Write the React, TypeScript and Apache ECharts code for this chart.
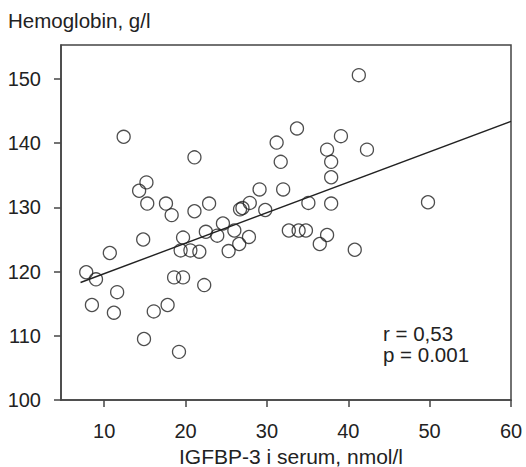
import React, { useEffect, useRef } from "react";
import * as echarts from "echarts";

const igfbp3 = [
  7.8, 9.0, 10.7, 11.6, 12.4, 8.5, 11.2, 14.3, 15.2, 15.3, 14.8, 14.9, 16.1, 17.6, 17.8, 18.3,
  18.6, 19.2, 19.7, 19.7, 19.4, 20.6, 21.7, 21.1, 21.1, 22.3, 22.9, 22.5, 23.9, 24.6, 26.0, 25.3,
  26.6, 27.8, 26.7, 27.0, 27.9, 29.1, 29.8, 31.2, 31.7, 32.0, 33.7, 32.7, 33.9, 34.8, 35.1, 36.5,
  37.4, 37.4, 37.9, 37.9, 37.9, 39.1, 40.8, 41.3, 42.3, 49.8,
];
const hemoglobin = [
  119.9, 118.8, 122.9, 116.8, 141.0, 114.8, 113.6, 132.6, 133.9, 130.6, 125.0, 109.5, 113.8, 130.6, 114.8, 128.8,
  119.1, 107.5, 119.1, 125.3, 123.3, 123.3, 123.1, 137.8, 129.4, 117.9, 130.6, 126.2, 125.6, 127.5, 126.4, 123.2,
  124.3, 125.4, 129.7, 129.9, 130.7, 132.8, 129.6, 140.1, 137.1, 132.8, 142.3, 126.4, 126.4, 126.4, 130.7, 124.3,
  125.7, 139.0, 137.1, 134.7, 130.6, 141.1, 123.4, 150.6, 139.0, 130.8,
];
const fitX = [7.1, 60];
const fitY = [118.3, 143.4];
const xTicks = [10, 20, 30, 40, 50, 60];
const yTicks = [100, 110, 120, 130, 140, 150];
const xRange = [4.7, 60];
const yRange = [100, 155.3];
const yTitle = "Hemoglobin, g/l";
const xTitle = "IGFBP-3 i serum, nmol/l";
const statLines = ["r = 0,53", "p = 0.001"];

const FONT = "Liberation Sans, Arial, sans-serif";
const TXT = "#222";
const AX = "#444";

export default function App() {
  const ref = useRef<HTMLDivElement>(null);
  useEffect(() => {
    if (!ref.current) return;
    const chart = echarts.init(ref.current, undefined, { renderer: "svg" });
    const points = igfbp3.map((x, i) => [x, hemoglobin[i]]);
    const fit = fitX.map((x, i) => [x, fitY[i]]);
    chart.setOption({
      animation: false,
      textStyle: { fontFamily: FONT },
      grid: {
        left: 61,
        top: 45,
        right: 15,
        bottom: 67,
        show: true,
        borderColor: AX,
        borderWidth: 1.5,
        backgroundColor: "transparent",
      },
      xAxis: {
        type: "value",
        min: xRange[0],
        max: xRange[1],
        splitLine: { show: false },
        axisLine: { show: true, lineStyle: { color: AX, width: 1.5 } },
        axisTick: { show: true, length: 7, customValues: xTicks, lineStyle: { color: AX, width: 1.5 } },
        axisLabel: {
          customValues: xTicks,
          margin: 21,
          color: TXT,
          fontSize: 20,
          fontFamily: FONT,
          showMinLabel: true,
          showMaxLabel: true,
        },
      },
      yAxis: {
        type: "value",
        min: yRange[0],
        max: yRange[1],
        splitLine: { show: false },
        axisLine: { show: true, lineStyle: { color: AX, width: 1.5 } },
        axisTick: { show: true, length: 7, customValues: yTicks, lineStyle: { color: AX, width: 1.5 } },
        axisLabel: {
          customValues: yTicks,
          margin: 20,
          color: TXT,
          fontSize: 20,
          fontFamily: FONT,
          showMinLabel: true,
        },
      },
      graphic: [
        {
          type: "text",
          left: 8,
          top: 10,
          style: { text: yTitle, fill: TXT, fontSize: 20.5, fontFamily: FONT },
        },
        {
          type: "text",
          x: 291,
          y: 456,
          style: {
            text: xTitle,
            fill: TXT,
            fontSize: 21,
            fontFamily: FONT,
            textAlign: "center",
            textVerticalAlign: "middle",
          },
        },
        {
          type: "text",
          x: 383,
          y: 333,
          style: { text: statLines[0], fill: TXT, fontSize: 20.5, fontFamily: FONT, textVerticalAlign: "middle" },
        },
        {
          type: "text",
          x: 383,
          y: 354,
          style: { text: statLines[1], fill: TXT, fontSize: 20.5, fontFamily: FONT, textVerticalAlign: "middle" },
        },
      ],
      series: [
        {
          type: "line",
          data: fit,
          showSymbol: false,
          symbol: "none",
          lineStyle: { color: TXT, width: 1.4 },
          silent: true,
          z: 1,
        },
        {
          type: "scatter",
          data: points,
          symbol: "circle",
          symbolSize: 13,
          itemStyle: { color: "rgba(0,0,0,0)", borderColor: TXT, borderWidth: 1.3 },
          z: 2,
        },
      ],
    });
    return () => chart.dispose();
  }, []);
  return (
    <div
      ref={ref}
      style={{ position: "fixed", left: 0, top: 0, width: 526, height: 467, background: "#fff" }}
    />
  );
}
